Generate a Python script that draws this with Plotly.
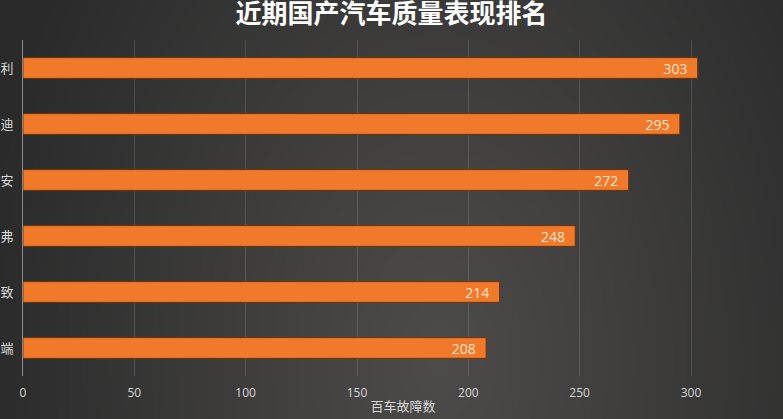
import base64
import struct
import zlib

import numpy as np
import plotly.graph_objs as go

# data (top to bottom)
brands = ['利', '迪', '安', '弗', '致', '端']
faults = [303, 295, 272, 248, 214, 208]
x_ticks = [0, 50, 100, 150, 200, 250, 300]

W, H = 783, 419
ML, MR, MT, MB = 23, 0, 40, 43


def bg_png(w, h):
    # soft radial grey background, lighter towards the bottom middle
    xs = np.linspace(0, W, w)
    ys = np.linspace(0, H, h)
    gx, gy = np.meshgrid(xs, ys)
    d = np.sqrt(((gx - 440) / 470) ** 2 + ((gy - 360) / 700) ** 2)
    d = np.clip(d, 0, 1)
    inner = np.array([78, 76, 75])
    outer = np.array([42, 42, 42])
    img = inner[None, None, :] + (outer - inner)[None, None, :] * d[:, :, None]
    img = img.astype(np.uint8)
    raw = b''.join(b'\x00' + img[r].tobytes() for r in range(h))

    def chunk(tag, data):
        c = tag + data
        return struct.pack('>I', len(data)) + c + struct.pack('>I', zlib.crc32(c) & 0xffffffff)

    png = b'\x89PNG\r\n\x1a\n'
    png += chunk(b'IHDR', struct.pack('>IIBBBBB', w, h, 8, 2, 0, 0, 0))
    png += chunk(b'IDAT', zlib.compress(raw, 9))
    png += chunk(b'IEND', b'')
    return 'data:image/png;base64,' + base64.b64encode(png).decode()


pw = W - ML - MR
ph = H - MT - MB

fig = go.Figure()

fig.add_trace(go.Bar(
    x=faults,
    y=brands,
    orientation='h',
    width=0.37,
    marker=dict(color='#f07a2a', line=dict(color='#6e3410', width=1)),
    text=faults,
    texttemplate='%{text}  ',
    textposition='inside',
    insidetextanchor='end',
    textangle=0,
    constraintext='none',
    textfont=dict(family='Open Sans', color='#f8e2cf', size=14),
    cliponaxis=False,
    hoverinfo='x+y',
))

fig.update_layout(
    width=W,
    height=H,
    margin=dict(l=ML, r=MR, t=MT, b=MB, pad=0),
    paper_bgcolor='#333333',
    plot_bgcolor='rgba(0,0,0,0)',
    font=dict(family='Noto Sans CJK SC', color='#d9d9d9', size=13),
    showlegend=False,
    title=dict(
        text='<b>近期国产汽车质量表现排名</b>',
        x=0.5, xanchor='center',
        y=1 - 5 / H, yanchor='top', yref='container',
        font=dict(size=26, color='#ffffff'),
    ),
    images=[dict(
        source=bg_png(261, 140),
        xref='paper', yref='paper',
        x=-ML / pw, y=1 + MT / ph,
        sizex=W / pw, sizey=H / ph,
        xanchor='left', yanchor='top',
        sizing='stretch', layer='below',
    )],
)

fig.update_xaxes(
    range=[0, pw / (668 / 300)],
    tickvals=x_ticks,
    showgrid=True,
    gridcolor='rgba(255,255,255,0.13)',
    gridwidth=1,
    zeroline=False,
    showline=False,
    ticks='',
    tickfont=dict(family='Open Sans', size=12, color='#d6d6d6'),
    ticklabelstandoff=8,
    title=dict(text='百车故障数', font=dict(size=13, color='#d6d6d6'), standoff=1),
)

fig.update_yaxes(
    autorange='reversed',
    showgrid=False,
    showline=True,
    linecolor='#8c8c8c',
    linewidth=1,
    ticks='',
    tickfont=dict(size=13, color='#d9d9d9'),
    ticklabelstandoff=6,
)

fig.write_html("out.html", config={'displayModeBar': False},
               post_script="document.body.style.margin='0';")
